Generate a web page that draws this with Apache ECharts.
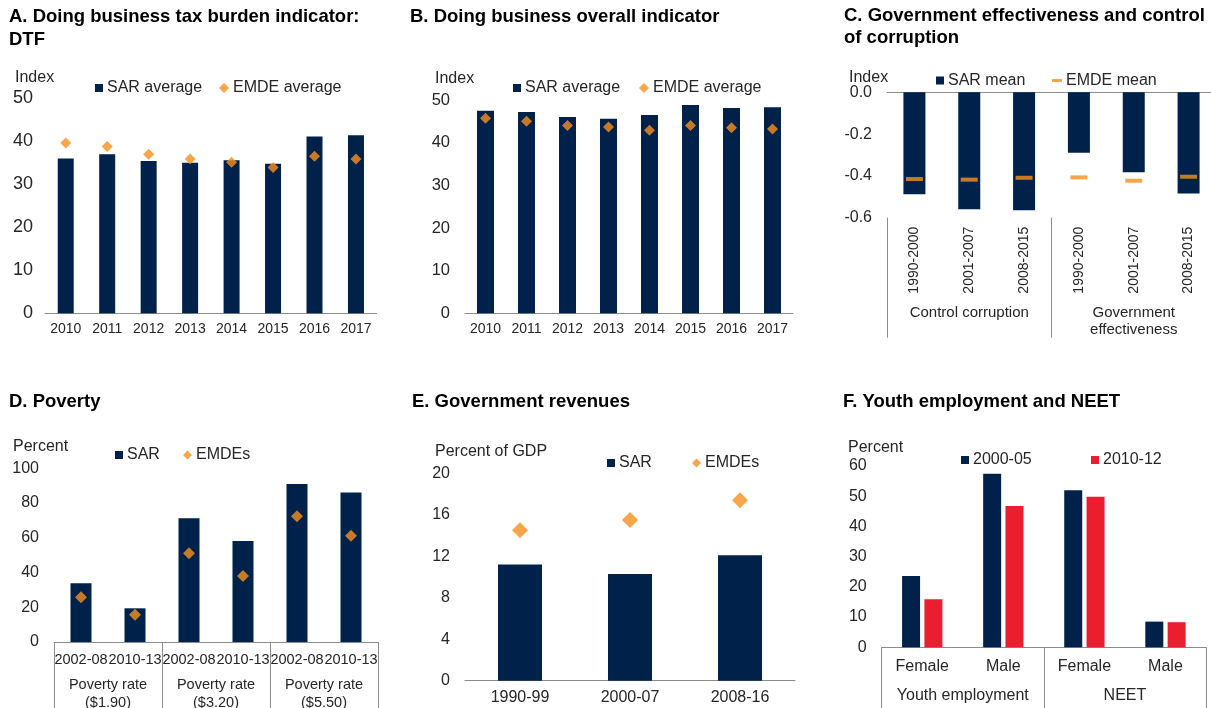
<!DOCTYPE html>
<html><head><meta charset="utf-8">
<script src="https://cdn.jsdelivr.net/npm/echarts@6/dist/echarts.min.js"></script>
<style>html,body{margin:0;padding:0;background:#fff}#c{width:1211px;height:708px}</style>
</head><body><div id="c"></div>
<script>
// ---------- DATA ----------
const yearsA = ['2010','2011','2012','2013','2014','2015','2016','2017'];
const sarTax = [36.0,37.0,35.4,35.0,35.6,34.8,41.1,41.4];
const emdeTax = [39.6,38.8,37.0,35.9,35.1,33.9,36.5,35.9];
const sarOverall = [47.5,47.2,46.0,45.6,46.5,48.8,48.1,48.3];
const emdeOverall = [45.7,45.0,44.0,43.7,42.9,44.0,43.5,43.2];
const govPeriods = ['1990-2000','2001-2007','2008-2015','1990-2000','2001-2007','2008-2015'];
const govGroups = ['Control corruption','Government\neffectiveness'];
const sarGov = [-0.488,-0.559,-0.564,-0.289,-0.382,-0.484];
const emdeGov = [-0.415,-0.418,-0.409,-0.407,-0.423,-0.404];
const povPeriods = ['2002-08','2010-13','2002-08','2010-13','2002-08','2010-13'];
const povGroups = ['Poverty rate\n($1.90)','Poverty rate\n($3.20)','Poverty rate\n($5.50)'];
const sarPov = [33.8,19.4,71.2,58.1,91.0,86.0];
const emdePov = [25.7,15.7,51.1,38.0,72.4,61.2];
const revPeriods = ['1990-99','2000-07','2008-16'];
const sarRev = [11.2,10.3,12.1];
const emdeRev = [14.5,15.5,17.4];
const youthCats = ['Female','Male','Female','Male'];
const youthGroups = ['Youth employment','NEET'];
const youth2000 = [23.6,57.4,52.0,8.5];
const youth2010 = [15.9,46.8,49.8,8.3];

// ---------- STYLE ----------
const FONT = 'Liberation Sans, Arial, sans-serif';
const NAVY = '#00214a', ORANGE = '#f7901e', RED = '#eb1e2f', TXT = '#262626', AX = '#8c8c8c';

const grids = [
  {left:45, top:98.3, width:331.7, height:215},   // A
  {left:465, top:100, width:328, height:213.3},   // B
  {left:887, top:92.3, width:329, height:125.4},  // C
  {left:54, top:468.3, width:324, height:173.7},  // D
  {left:465, top:473.3, width:330, height:207.4}, // E
  {left:881.7, top:466, width:324.3, height:181.3} // F
].map(g => Object.assign(g, {outerBoundsMode:'none', containLabel:false}));

function yAx(g, min, max, interval, fs, margin, fmt) {
  return {type:'value', gridIndex:g, min, max, interval,
    axisLine:{show:false}, axisTick:{show:false}, splitLine:{show:false},
    axisLabel:{fontSize:fs, color:TXT, fontFamily:FONT, margin, formatter:fmt}};
}
function xCat(g, data, opts) {
  const o = Object.assign({fs:14, margin:8, line:true, rotate:0, tick:0, labelLH:null, pos:'bottom', labelShow:true}, opts||{});
  return {type:'category', gridIndex:g, data, position:o.pos,
    axisLine:{show:o.line, onZero:false, lineStyle:{color:AX, width:1}},
    axisTick:{show:o.tick>0, length:o.tick, interval:0, lineStyle:{color:AX}},
    axisLabel:{show:o.labelShow, interval:0, fontSize:o.fs, color:TXT, fontFamily:FONT, margin:o.margin, rotate:o.rotate, lineHeight:o.labelLH||undefined},
    splitLine:{show:false}};
}

const xAxis = [
  xCat(0, yearsA, {fs:14, margin:9}),                                  //0
  xCat(1, yearsA, {fs:14, margin:9}),                                  //1
  xCat(2, govPeriods, {fs:14, margin:9, line:false, rotate:90}),        //2
  xCat(2, govGroups, {fs:15, margin:87, line:false, tick:120, labelLH:17}), //3
  xCat(2, govPeriods, {pos:'top', labelShow:false}),                   //4
  xCat(3, povPeriods, {fs:14.5, margin:10}),                           //5
  xCat(3, povGroups, {fs:14.5, margin:34, line:false, tick:66, labelLH:18}), //6
  xCat(4, revPeriods, {fs:16, margin:9}),                              //7
  xCat(5, youthCats, {fs:16, margin:11}),                              //8
  xCat(5, youthGroups, {fs:16, margin:40, line:false, tick:61})        //9
];
const yAxis = [
  yAx(0, 0, 50, 10, 18, 12),
  yAx(1, 0, 50, 10, 16.5, 15),
  yAx(2, -0.6, 0, 0.2, 16, 15, v => v.toFixed(1)),
  yAx(3, 0, 100, 20, 16, 15),
  yAx(4, 0, 20, 4, 16, 15),
  yAx(5, 0, 60, 10, 16, 15)
];

const series = [
  {name:'SAR average', type:'bar', xAxisIndex:0, yAxisIndex:0, data:sarTax, barWidth:16, itemStyle:{color:NAVY}},
  {name:'EMDE average', type:'scatter', xAxisIndex:0, yAxisIndex:0, data:emdeTax, symbol:'diamond', symbolSize:11, itemStyle:{color:ORANGE}},
  {name:'SAR average', type:'bar', xAxisIndex:1, yAxisIndex:1, data:sarOverall, barWidth:17, itemStyle:{color:NAVY}},
  {name:'EMDE average', type:'scatter', xAxisIndex:1, yAxisIndex:1, data:emdeOverall, symbol:'diamond', symbolSize:11, itemStyle:{color:ORANGE}},
  {name:'SAR mean', type:'bar', xAxisIndex:2, yAxisIndex:2, data:sarGov, barWidth:22, itemStyle:{color:NAVY}},
  {name:'EMDE mean', type:'scatter', xAxisIndex:2, yAxisIndex:2, data:emdeGov, symbol:'rect', symbolSize:[17,4], itemStyle:{color:ORANGE}},
  {name:'SAR', type:'bar', xAxisIndex:5, yAxisIndex:3, data:sarPov, barWidth:21, itemStyle:{color:NAVY}},
  {name:'EMDEs', type:'scatter', xAxisIndex:5, yAxisIndex:3, data:emdePov, symbol:'diamond', symbolSize:12, itemStyle:{color:ORANGE}},
  {name:'SAR', type:'bar', xAxisIndex:7, yAxisIndex:4, data:sarRev, barWidth:44, itemStyle:{color:NAVY}},
  {name:'EMDEs', type:'scatter', xAxisIndex:7, yAxisIndex:4, data:emdeRev, symbol:'diamond', symbolSize:16, itemStyle:{color:ORANGE}},
  {name:'2000-05', type:'bar', xAxisIndex:8, yAxisIndex:5, data:youth2000, barWidth:18, barGap:'24%', itemStyle:{color:NAVY}},
  {name:'2010-12', type:'bar', xAxisIndex:8, yAxisIndex:5, data:youth2010, barWidth:18, barGap:'24%', itemStyle:{color:RED}}
];

function T(text, left, top, fs, bold, lh) {
  return {text, left, top, padding:0, textStyle:{fontSize:fs, fontWeight:bold?'bold':'normal', color:bold?'#000':TXT, fontFamily:FONT, lineHeight:lh||fs+2}};
}
const title = [
  T('A. Doing business tax burden indicator:\nDTF', 9, 5, 18.5, true, 23),
  T('B. Doing business overall indicator', 410, 5, 18.5, true, 23),
  T('C. Government effectiveness and control\nof corruption', 844, 5, 18.5, true, 22),
  T('D. Poverty', 9, 390, 18.5, true, 23),
  T('E. Government revenues', 412, 390, 18.5, true, 23),
  T('F. Youth employment and NEET', 843, 390, 18.5, true, 23),
  T('Index', 15, 69, 16, false, 18),
  T('Index', 435, 70, 16, false, 18),
  T('Index', 849, 69, 16, false, 18),
  T('Percent', 13, 438, 16, false, 18),
  T('Percent of GDP', 435, 443, 16, false, 18),
  T('Percent', 848, 439, 16, false, 18)
];

function L(name, left, cy, icon, w, h) {
  return {data:[{name, icon}], left, top:cy-9, padding:0, itemWidth:w, itemHeight:h, itemGap:0,
    selectedMode:false, textStyle:{fontSize:16, color:TXT, fontFamily:FONT, lineHeight:18, padding:[0,0,0,-1]}};
}
const legend = [
  L('SAR average', 95, 88, 'rect', 8, 8),
  L('EMDE average', 219, 88, 'diamond', 10, 10),
  L('SAR average', 513, 88, 'rect', 8, 8),
  L('EMDE average', 639, 88, 'diamond', 10, 10),
  L('SAR mean', 936, 80.5, 'rect', 8, 8),
  L('EMDE mean', 1052, 80.5, 'rect', 10, 3),
  L('SAR', 115, 455, 'rect', 8, 8),
  L('EMDEs', 183, 455, 'diamond', 9, 9),
  L('SAR', 607, 463, 'rect', 8, 8),
  L('EMDEs', 692, 463, 'diamond', 9, 9),
  L('2000-05', 961, 460, 'rect', 8, 8),
  L('2010-12', 1091, 460, 'rect', 8, 8)
];

const chart = echarts.init(document.getElementById('c'), null, {renderer:'canvas'});
chart.setOption({animation:false, backgroundColor:'#fff', textStyle:{fontFamily:FONT},
  grid:grids, xAxis, yAxis, series, title, legend});
</script></body></html>
